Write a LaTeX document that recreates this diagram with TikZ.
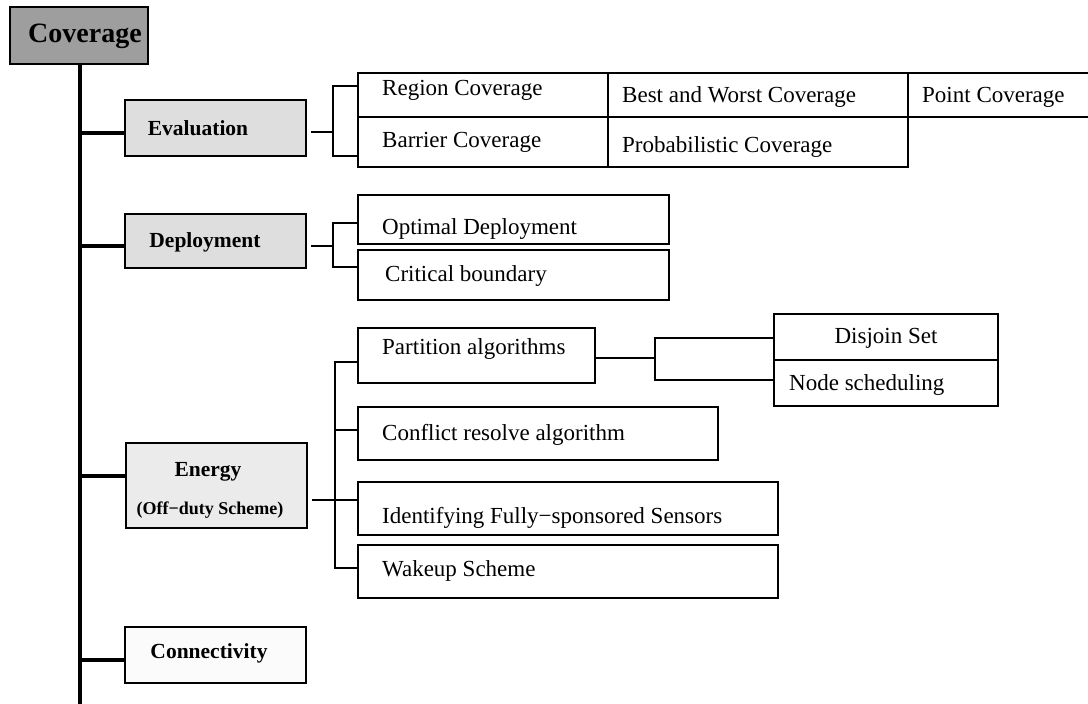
\documentclass[tikz,border=0pt]{standalone}
\usepackage{fontspec}
\setmainfont{Liberation Serif}
\definecolor{covgray}{gray}{0.62}
\definecolor{evgray}{gray}{0.87}
\definecolor{engray}{gray}{0.92}
\definecolor{cngray}{gray}{0.985}
\newcommand\bx[6]{\node[#6, minimum width={#4-#2}, minimum height={#5-#3}] (#1) at ({(#2+#4)/2},{(#3+#5)/2}) {};}
\begin{document}
\begin{tikzpicture}[x=1pt,y=-1pt,
  box/.style={draw=black, line width=1.7pt, inner sep=0pt},
  cell/.style={draw=black, line width=1.4pt, inner sep=0pt},
  lbl/.style={font=\fontsize{23}{27}\selectfont, inner sep=0pt, anchor=west},
  head/.style={font=\bfseries\fontsize{21.5}{26}\selectfont, inner sep=0pt},
  trunk/.style={line width=4.5pt},
  branch/.style={line width=3.4pt},
  link/.style={line width=1.3pt},
]
\clip (0,0) rectangle (1088,704);
\fill[white] (0,0) rectangle (1088,704);

% root
\bx{cov}{10}{7}{148}{64}{box, fill=covgray}
\node[font=\bfseries\fontsize{28}{32}\selectfont, inner sep=0pt] (covt) at (85,36) {Coverage};
\coordinate (tend) at (80,706);
\draw[trunk] (cov.south -| tend) -- (tend);

% level 1
\bx{eva}{125}{100}{306}{156}{box, fill=evgray}
\node[head] (evat) at (198,128) {Evaluation};
\bx{dep}{125}{214}{306}{268}{box, fill=evgray}
\node[head] (dept) at (205,242) {Deployment};
\bx{ene}{126}{443}{307}{528}{box, fill=engray}
\node[head] (enet) at (208,472) {Energy};
\node[font=\bfseries\fontsize{18}{22}\selectfont, inner sep=0pt] (enes) at (210,510) {(Off−duty Scheme)};
\bx{cnn}{125}{627}{306}{683}{box, fill=cngray}
\node[head] (cnnt) at (209,653) {Connectivity};

\draw[branch] ([shift={(0,5)}]eva.west) -- ([shift={(0,5)}]eva.west -| tend);
\draw[branch] ([shift={(0,5)}]dep.west) -- ([shift={(0,5)}]dep.west -| tend);
\draw[branch] ([shift={(0,-9.5)}]ene.west) -- ([shift={(0,-9.5)}]ene.west -| tend);
\draw[branch] ([shift={(0,5)}]cnn.west) -- ([shift={(0,5)}]cnn.west -| tend);

% evaluation table
\bx{r1c1}{358}{73}{608}{117}{cell}
\bx{r1c2}{608}{73}{908}{117}{cell}
\bx{r1c3}{908}{73}{1096}{117}{cell}
\bx{r2c1}{358}{117}{608}{167}{cell}
\bx{r2c2}{608}{117}{908}{167}{cell}
\node[lbl] (t11) at (382,90) {Region Coverage};
\node[lbl] (t12) at (622,97) {Best and Worst Coverage};
\node[lbl] (t13) at (922,97) {Point Coverage};
\node[lbl] (t21) at (382,142) {Barrier Coverage};
\node[lbl] (t22) at (622,147) {Probabilistic Coverage};
\coordinate (eb) at (333,132);
\draw[link] ([shift={(4,4)}]eva.east) -- (eb);
\draw[link] ([shift={(0,-9)}]r1c1.west) -| (eb) |- ([shift={(0,14)}]r2c1.west);

% deployment
\bx{opt}{358}{195}{669}{244}{box}
\bx{cri}{358}{250}{669}{300}{box}
\node[lbl] (optt) at (382,229) {Optimal Deployment};
\node[lbl] (crit) at (385,276) {Critical boundary};
\coordinate (db) at (333,246);
\draw[link] ([shift={(4,5)}]dep.east) -- (db);
\draw[link] ([shift={(0,3.5)}]opt.west) -| (db) |- ([shift={(0,-8)}]cri.west);

% energy
\bx{par}{358}{328}{595}{383}{box}
\bx{con}{358}{407}{718}{460}{box}
\bx{idf}{358}{482}{778}{535}{box}
\bx{wak}{358}{545}{778}{598}{box}
\node[lbl] (part) at (382,349) {Partition algorithms};
\node[lbl] (cont) at (382,435) {Conflict resolve algorithm};
\node[lbl] (idft) at (382,518) {Identifying Fully−sponsored Sensors};
\node[lbl] (wakt) at (382,571) {Wakeup Scheme};
\coordinate (ebt) at (335,362);
\coordinate (ebb) at (335,568);
\draw[link] ([shift={(4,14.5)}]ene.east) -- ([shift={(0,-8.5)}]idf.west);
\draw[link] ([shift={(0,6.5)}]par.west) -- (ebt) -- (ebb) -- ([shift={(0,-3.5)}]wak.west);
\draw[link] ([shift={(0,-3.5)}]con.west) -- ++(-23,0);

% partition subtree
\bx{dis}{774}{314}{998}{360}{cell}
\bx{nod}{774}{360}{998}{406}{cell}
\node[font=\fontsize{23}{27}\selectfont, inner sep=0pt] (dist) at (886,338) {Disjoin Set};
\node[lbl] (nodt) at (789,385) {Node scheduling};
\coordinate (pb) at (655,358);
\draw[link] ([shift={(0,2.5)}]par.east) -- (pb);
\draw[link] ([shift={(0,1)}]dis.west) -| (pb) |- ([shift={(0,-3)}]nod.west);
\end{tikzpicture}
\end{document}
